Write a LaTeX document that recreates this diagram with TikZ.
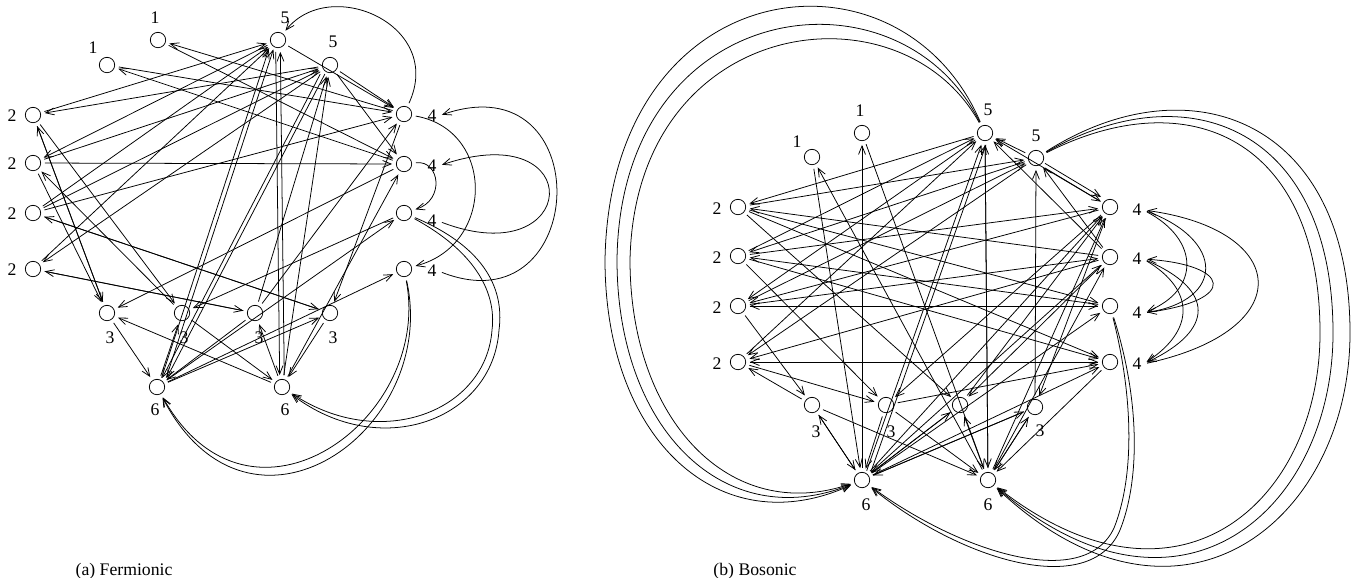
\documentclass[tikz,border=0pt]{standalone}
\usepackage{fontspec}
\setmainfont{Liberation Serif}
\usetikzlibrary{arrows.meta}

\begin{document}
\begin{tikzpicture}[x=0.65pt,y=-0.65pt,line width=0.5pt,
    font=\fontsize{11.5}{13}\selectfont,
    >={Straight Barb[length=5.5pt,width=4.5pt]},
    vertex/.style={circle,draw,minimum size=10pt,inner sep=0pt},
    num/.style={inner sep=1pt},
    conn/.style={->,shorten >=2.5pt,shorten <=2.5pt},
]
\useasboundingbox (0,0) rectangle (1366,577);

% (a) Fermionic
\node[vertex] (a1a) at (158,40) {};
\node[vertex] (a1b) at (107,65) {};
\node[vertex] (a5a) at (278,40) {};
\node[vertex] (a5b) at (330,65) {};
\node[vertex] (a2a) at (33,115) {};
\node[vertex] (a2b) at (33,163) {};
\node[vertex] (a2c) at (33,213) {};
\node[vertex] (a2d) at (33,269) {};
\node[vertex] (a4a) at (404,114) {};
\node[vertex] (a4b) at (404,164) {};
\node[vertex] (a4c) at (404,213) {};
\node[vertex] (a4d) at (404,269) {};
\node[vertex] (a3a) at (107,313) {};
\node[vertex] (a3b) at (182,313) {};
\node[vertex] (a3c) at (255,313) {};
\node[vertex] (a3d) at (330,313) {};
\node[vertex] (a6a) at (157,387) {};
\node[vertex] (a6b) at (282,387) {};

\node[num] (l1a) at (155,18) {1};
\node[num] (l1b) at (93,48) {1};
\node[num] (l5a) at (285,18) {5};
\node[num] (l5b) at (333,42) {5};
\node[num] (l2a) at (12,116) {2};
\node[num] (l2b) at (12,164) {2};
\node[num] (l2c) at (12,214) {2};
\node[num] (l2d) at (12,270) {2};
\node[num] (l4a) at (432,116) {4};
\node[num] (l4b) at (432,166) {4};
\node[num] (l4c) at (432,221) {4};
\node[num] (l4d) at (432,271) {4};
\node[num] (l3a) at (110,338) {3};
\node[num] (l3b) at (184,338) {3};
\node[num] (l3c) at (259,338) {3};
\node[num] (l3d) at (333,338) {3};
\node[num] (l6a) at (155,410) {6};
\node[num] (l6b) at (285,410) {6};

\draw[conn] (a4a) -- (a1a);
\draw[conn] (a1a) -- (a4b);
\draw[conn] (a1b) -- (a4a);
\draw[conn] (a4b) -- (a1b);
\draw[conn] (a5a) -- (a4a);
\draw[conn] (a5b) -- (a4a);
\draw[conn] (a5b) -- (a4b);
\draw[conn] (a2a) -- (a5a);
\draw[conn] (a5b) -- (a2a);
\draw[conn] (a5a) -- (a2b);
\draw[conn] (a2b) -- (a5b);
\draw[conn] (a2c) -- (a5a);
\draw[conn] (a2c) -- (a5b);
\draw[conn] (a5b) -- (a2d);
\draw[conn] (a2d) -- (a5a);
\draw[conn] (a2b) -- (a4b);
\draw[conn] (a2c) -- (a4a);
\draw[conn] (a2a) -- (a3a);
\draw[conn] (a3a) -- (a2a);
\draw[conn] (a2a) -- (a3b);
\draw[conn] (a2b) -- (a3a);
\draw[conn] (a3b) -- (a2b);
\draw[conn] (a2c) -- (a3d);
\draw[conn] (a3d) -- (a2c);
\draw[conn] (a2d) -- (a3c);
\draw[conn] (a3c) -- (a2d);
\draw[conn] (a3a) -- (a6a);
\draw[conn] (a6b) -- (a3a);
\draw[conn] (a3b) -- (a6b);
\draw[conn] (a6a) -- (a3b);
\draw[conn] (a6a) -- (a3d);
\draw[conn] (a3c) -- (a6a);
\draw[conn] (a6b) -- (a3c);
\draw[conn] (a3d) -- (a6b);
\draw[conn] ([xshift=-1.5pt]a5a.south) -- ([xshift=-1.5pt]a6b.north);
\draw[conn] ([xshift=1.5pt]a6b.north) -- ([xshift=1.5pt]a5a.south);
\draw[conn] ([xshift=-1.5pt]a5b.south west) -- ([xshift=-1.5pt]a6a.north east);
\draw[conn] ([xshift=1.5pt]a5b.south west) -- ([xshift=1.5pt]a6a.north east);
\draw[conn] ([xshift=-1.5pt]a6a.north east) -- ([xshift=-1.5pt]a5a.south west);
\draw[conn] ([xshift=1.5pt]a6a.north east) -- ([xshift=1.5pt]a5a.south west);
\draw[conn] (a6a) -- (a4c);
\draw[conn] (a6a) -- (a4d);
\draw[conn] (a6b) -- (a4b);
\draw[conn] (a6b) -- (a5b);
\draw[conn] (a4b) -- (a3a);
\draw[conn] (a4c) -- (a3b);
\draw[conn] (a3c) -- (a4a);
\draw[conn] (a3c) -- (a5b);
\draw[conn] (a4a) -- (a3d);

% curved ones
\draw[conn] (a4a) .. controls (445,25) and (330,-25) .. (a5a);
\draw[conn] (a4a) .. controls (495,130) and (495,245) .. (a4d);
\draw[conn] (a4b) .. controls (440,160) and (445,200) .. (a4c);
\draw[conn] (l4d.east) .. controls (590,330) and (600,60) .. (l4a.east);
\draw[conn] (l4c.east) .. controls (580,275) and (590,115) .. (l4b.east);
\draw[conn] (a4c) .. controls (480,245) and (505,285) .. (499,330)
                  .. controls (493,420) and (380,462) .. (a6b);
\draw[conn] (a4c) .. controls (472,250) and (497,290) .. (492,330)
                  .. controls (486,412) and (380,452) .. (a6b);
\draw[conn] (a4d) .. controls (440,430) and (250,565) .. (a6a);
\draw[conn] (a4d) .. controls (433,420) and (250,552) .. (a6a);

% (b) Bosonic
\node[vertex] (b1a) at (812,157) {};
\node[vertex] (b1b) at (862,133) {};
\node[vertex] (b5a) at (985,133) {};
\node[vertex] (b5b) at (1036,158) {};
\node[vertex] (b2a) at (738,207) {};
\node[vertex] (b2b) at (738,256) {};
\node[vertex] (b2c) at (738,306) {};
\node[vertex] (b2d) at (738,362) {};
\node[vertex] (b4a) at (1110,207) {};
\node[vertex] (b4b) at (1110,257) {};
\node[vertex] (b4c) at (1110,306) {};
\node[vertex] (b4d) at (1110,362) {};
\node[vertex] (b3a) at (812,405) {};
\node[vertex] (b3b) at (886,405) {};
\node[vertex] (b3c) at (960,405) {};
\node[vertex] (b3d) at (1035,407) {};
\node[vertex] (b6a) at (862,480) {};
\node[vertex] (b6b) at (988,480) {};

\node[num] (m1a) at (797,142) {1};
\node[num] (m1b) at (860,111) {1};
\node[num] (m5a) at (988,110) {5};
\node[num] (m5b) at (1036,136) {5};
\node[num] (m2a) at (717,209) {2};
\node[num] (m2b) at (717,258) {2};
\node[num] (m2c) at (717,308) {2};
\node[num] (m2d) at (717,364) {2};
\node[num] (m4a) at (1137,210) {4};
\node[num] (m4b) at (1137,259) {4};
\node[num] (m4c) at (1137,313) {4};
\node[num] (m4d) at (1137,364) {4};
\node[num] (m3a) at (816,432) {3};
\node[num] (m3b) at (891,432) {3};
\node[num] (m3d) at (1040,431) {3};
\node[num] (m6a) at (866,505) {6};
\node[num] (m6b) at (988,505) {6};

\draw[conn] (b1a) -- (b6a);
\draw[conn] (b6b) -- (b1a);
\draw[conn] (b1b) -- (b6b);
\draw[conn] (b6a) -- (b1b);
\draw[conn] (b5a) -- (b2a);
\draw[conn] (b2a) -- (b5b);
\draw[conn] (b2a) -- (b4c);
\draw[conn] (b2a) -- (b4d);
\draw[conn] (b4b) -- (b2a);
\draw[conn] (b2a) -- (b3c);
\draw[conn] (b5b) -- (b2b);
\draw[conn] (b2b) -- (b5a);
\draw[conn] (b2b) -- (b4a);
\draw[conn] (b2b) -- (b4d);
\draw[conn] (b4c) -- (b2b);
\draw[conn] (b2b) -- (b3b);
\draw[conn] (b5a) -- (b2c);
\draw[conn] (b2c) -- (b5b);
\draw[conn] (b2c) -- (b4c);
\draw[conn] (b4c) -- (b2c);
\draw[conn] (b4a) -- (b2c);
\draw[conn] (b2c) -- (b3a);
\draw[conn] (b2c) -- (b4b);
\draw[conn] (b5b) -- (b2d);
\draw[conn] (b2d) -- (b5a);
\draw[conn] (b2d) -- (b4d);
\draw[conn] (b4d) -- (b2d);
\draw[conn] (b2d) -- (b3b);
\draw[conn] (b3a) -- (b2d);
\draw[conn] (b4b) -- (b2d);
\draw[conn] (b5b) -- (b5a);
\draw[conn] (b4a) -- (b5a);
\draw[conn] (b4b) -- (b5a);
\draw[conn] ([yshift=1.5pt]b5b.south east) -- ([yshift=1.5pt]b4a.north west);
\draw[conn] ([yshift=-1.5pt]b5b.south east) -- ([yshift=-1.5pt]b4a.north west);
\draw[conn] (b4b) -- (b5b);
\draw[conn] (b3d) -- (b5b);
\draw[conn] ([xshift=-1.5pt]b6a.north east) -- ([xshift=-1.5pt]b5a.south);
\draw[conn] ([xshift=1.5pt]b6a.north east) -- ([xshift=1.5pt]b5a.south);
\draw[conn] (b6b) -- (b5a);
\draw[conn] (b5a) -- (b6b);
\draw[conn] (b6a) -- (b4a);
\draw[conn] (b6a) -- (b4b);
\draw[conn] (b6a) -- (b4c);
\draw[conn] (b6a) -- (b4d);
\draw[conn] (b6b) -- (b4a);
\draw[conn] (b6b) -- (b4b);
\draw[conn] (b4d) -- (b6b);
\draw[conn] (b3a) -- (b6a);
\draw[conn] (b6a) -- (b3a);
\draw[conn] (b3b) -- (b6a);
\draw[conn] (b3c) -- (b6a);
\draw[conn] (b6a) -- (b3c);
\draw[conn] (b3d) -- (b6a);
\draw[conn] (b6a) -- (b3d);
\draw[conn] (b3a) -- (b6b);
\draw[conn] (b3b) -- (b6b);
\draw[conn] (b6b) -- (b3c);
\draw[conn] (b3d) -- (b6b);
\draw[conn] (b6b) -- (b3d);
\draw[conn] (b4a) -- (b3b);
\draw[conn] (b4b) -- (b3c);
\draw[conn] (b4a) -- (b3d);
\draw[conn] (b3c) -- (b4a);
\draw[conn] (b3b) -- (b4d);

% curved ones
\draw[conn] (b5a) .. controls (900,-65) and (610,-30) .. (605,260)
                  .. controls (605,440) and (720,545) .. (b6a);
\draw[conn] (b5a) .. controls (900,-40) and (620,-5) .. (617,260)
                  .. controls (617,430) and (725,535) .. (b6a);
\draw[conn] (b5a) .. controls (900,-20) and (635,15) .. (630,260)
                  .. controls (630,420) and (730,525) .. (b6a);
\draw[conn] (b5b) .. controls (1190,60) and (1350,120) .. (1350,333)
                  .. controls (1350,520) and (1180,660) .. (b6b);
\draw[conn] (b5b) .. controls (1190,70) and (1333,130) .. (1333,333)
                  .. controls (1333,510) and (1180,645) .. (b6b);
\draw[conn] (b5b) .. controls (1190,80) and (1320,140) .. (1320,333)
                  .. controls (1320,500) and (1180,630) .. (b6b);
\draw[conn] (b4c) .. controls (1140,400) and (1140,480) .. (1120,530)
                  .. controls (1090,600) and (960,560) .. (b6a);
\draw[conn] (b4c) .. controls (1134,400) and (1134,478) .. (1114,528)
                  .. controls (1084,592) and (960,552) .. (b6a);
\draw[conn] (m4d.east) .. controls (1300,330) and (1290,230) .. (m4a.east);
\draw[conn] (m4a.east) .. controls (1200,240) and (1200,290) .. (m4c.east);
\draw[conn] (m4a.east) .. controls (1225,240) and (1225,300) .. (m4c.east);
\draw[conn] (m4c.east) .. controls (1240,300) and (1230,265) .. (m4b.east);
\draw[conn] (m4b.east) .. controls (1195,290) and (1195,330) .. (m4d.east);
\draw[conn] (m4b.east) .. controls (1215,290) and (1215,330) .. (m4d.east);

\node (capa) at (124,571) {(a) Fermionic};
\node (capb) at (755,571) {(b) Bosonic};

\end{tikzpicture}
\end{document}
